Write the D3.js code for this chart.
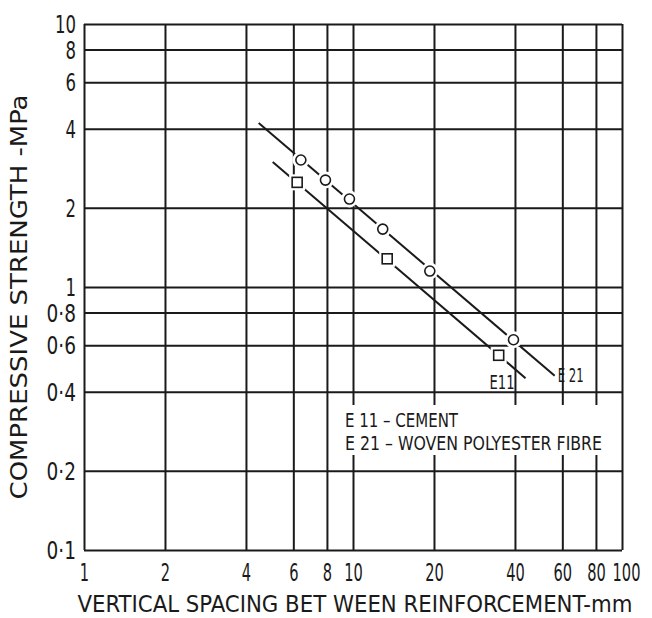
<!DOCTYPE html>
<html>
<head>
<meta charset="utf-8">
<script src="https://cdn.jsdelivr.net/npm/d3@7"></script>
<style>
  body { margin: 0; background: #fff; }
  svg { display: block; }
  text { font-family: "DejaVu Sans Condensed", "Liberation Sans Narrow", "Liberation Sans", sans-serif; fill: #1a1a1a; }
</style>
</head>
<body>
<svg id="chart" width="652" height="618"></svg>
<script>
// tick values on both log axes
const xTicks = [1, 2, 4, 6, 8, 10, 20, 40, 60, 80, 100]
const yTicks = [0.1, 0.2, 0.4, 0.6, 0.8, 1, 2, 4, 6, 8, 10]

// measured points (spacing mm, strength MPa)
const e21Points = [[6.4, 3.04], [7.9, 2.55], [9.7, 2.16], [12.9, 1.66], [19.3, 1.15], [39.5, 0.63]]
const e11Points = [[6.2, 2.5], [13.4, 1.28], [34.8, 0.55]]

// fitted lines (end points)
const e21Line = [[4.46, 4.2], [56.2, 0.46]]
const e11Line = [[5.03, 2.99], [43.8, 0.45]]

const legendRows = ['E  11 \u2013 CEMENT', 'E  21 \u2013 WOVEN  POLYESTER  FIBRE']

const svg = d3.select('#chart')
const margin = { top: 24, right: 30, bottom: 68, left: 84 }
const width = 652 - margin.left - margin.right
const height = 618 - margin.top - margin.bottom
const ink = '#1a1a1a'

const x = d3.scaleLog().domain([1, 100]).range([0, width])
const y = d3.scaleLog().domain([0.1, 10]).range([height, 0])

const g = svg.append('g').attr('transform', `translate(${margin.left},${margin.top})`)

// narrow drafting lettering: squeeze glyphs to a fixed width per character
function narrow(sel, perChar) {
  sel.each(function () {
    const t = this.textContent
    let w = 0
    for (const c of t) w += c === '\u00b7' ? perChar * 0.8 : perChar
    d3.select(this).attr('textLength', w).attr('lengthAdjust', 'spacingAndGlyphs')
  })
}

// ------------------
// Grid + axes
// ------------------
const fmt = d => String(d).replace('.', '\u00b7')

const xAxis = g.append('g')
  .attr('transform', `translate(0,${height})`)
  .call(d3.axisBottom(x).tickValues(xTicks).tickSize(-height).tickPadding(13).tickFormat(fmt))
const yAxis = g.append('g')
  .call(d3.axisLeft(y).tickValues(yTicks).tickSize(-width).tickPadding(8).tickFormat(fmt))

for (const ax of [xAxis, yAxis]) {
  ax.select('.domain').remove()
  ax.selectAll('line').attr('stroke', ink).attr('stroke-width', 2)
  ax.selectAll('text').attr('fill', ink)
}
xAxis.selectAll('text').style('font-size', '25px').call(narrow, 9.3)
// the last label sits a little right of its line, as in the drawing
xAxis.selectAll('.tick').filter(d => d === 100).select('text').attr('x', 4)
yAxis.selectAll('text').style('font-size', '24px').attr('dy', '0.36em').call(narrow, 10.5)

// legend box covers the grid
g.append('rect')
  .attr('x', 246).attr('y', 381)
  .attr('width', 289).attr('height', 50)
  .attr('fill', '#fff')

const legendWidths = [113, 257]
legendRows.forEach((t, i) => {
  g.append('text')
    .attr('x', 261).attr('y', 403 + i * 23)
    .attr('textLength', legendWidths[i]).attr('lengthAdjust', 'spacingAndGlyphs')
    .style('font-size', '19px')
    .text(t)
})

// ------------------
// Fitted lines
// ------------------
const line = d3.line().x(d => x(d[0])).y(d => y(d[1]))
for (const l of [e21Line, e11Line]) {
  g.append('path').attr('d', line(l))
    .attr('fill', 'none').attr('stroke', ink).attr('stroke-width', 2)
}

// ------------------
// Markers (white halo breaks the line)
// ------------------
g.selectAll('.halo21').data(e21Points).enter().append('circle')
  .attr('cx', d => x(d[0])).attr('cy', d => y(d[1])).attr('r', 8.5).attr('fill', '#fff')
g.selectAll('.c21').data(e21Points).enter().append('circle')
  .attr('cx', d => x(d[0])).attr('cy', d => y(d[1])).attr('r', 5)
  .attr('fill', '#fff').attr('stroke', ink).attr('stroke-width', 1.6)

g.selectAll('.halo11').data(e11Points).enter().append('rect')
  .attr('x', d => x(d[0]) - 8).attr('y', d => y(d[1]) - 8)
  .attr('width', 16).attr('height', 16).attr('fill', '#fff')
g.selectAll('.s11').data(e11Points).enter().append('rect')
  .attr('x', d => x(d[0]) - 5).attr('y', d => y(d[1]) - 5)
  .attr('width', 10).attr('height', 10)
  .attr('fill', '#fff').attr('stroke', ink).attr('stroke-width', 1.6)

// line labels
g.append('text').attr('x', x(e11Line[1][0]) - 36).attr('y', y(e11Line[1][1]) + 11)
  .attr('textLength', 25).attr('lengthAdjust', 'spacingAndGlyphs')
  .style('font-size', '19px').text('E11')
g.append('text').attr('x', x(e21Line[1][0]) + 3).attr('y', y(e21Line[1][1]) + 6)
  .attr('textLength', 26).attr('lengthAdjust', 'spacingAndGlyphs')
  .style('font-size', '19px').text('E 21')

// ------------------
// Axis titles
// ------------------
svg.append('text')
  .attr('transform', 'translate(27,297) rotate(-90)')
  .attr('text-anchor', 'middle')
  .attr('textLength', 405).attr('lengthAdjust', 'spacingAndGlyphs')
  .style('font-size', '23px')
  .text('COMPRESSIVE  STRENGTH  -MPa')

svg.append('text')
  .attr('x', 355).attr('y', 612)
  .attr('text-anchor', 'middle')
  .attr('textLength', 555).attr('lengthAdjust', 'spacingAndGlyphs')
  .style('font-size', '23px')
  .text('VERTICAL  SPACING  BET WEEN  REINFORCEMENT-mm')
</script>
</body>
</html>
